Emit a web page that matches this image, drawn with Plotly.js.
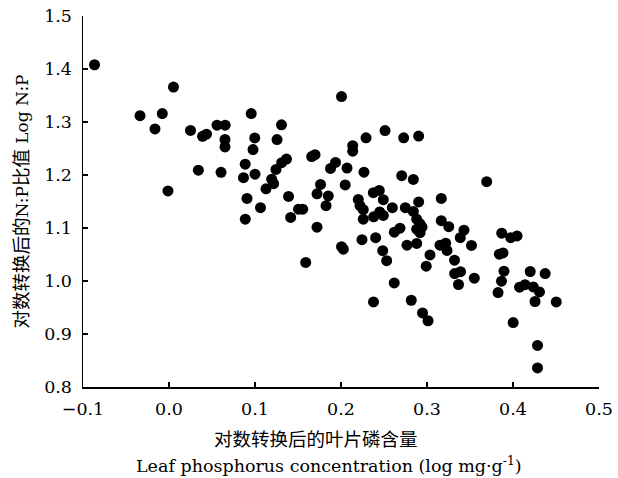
<!DOCTYPE html>
<html>
<head>
<meta charset="utf-8">
<script src="https://cdn.plot.ly/plotly-3.0.1.min.js"></script>
<style>html,body{margin:0;padding:0;background:#fff;}#chart{width:618px;height:478px;}</style>
</head>
<body>
<div id="chart"></div>
<script>
// Leaf phosphorus concentration (log mg·g-1)
const logP = [
 -0.0866,-0.0337,-0.0078,-0.0163,0.0052,-0.0012,0.0250,0.0390,0.0436,0.0341,
 0.0558,0.0653,0.0651,0.0651,0.0605,0.0956,0.0997,0.0977,0.0886,0.0866,
 0.1000,0.0907,0.0887,0.1064,0.1256,0.1308,0.1366,0.1310,0.1244,0.1194,
 0.1217,0.1128,0.1390,0.1415,0.1506,0.1555,0.1659,0.1698,0.1762,0.1721,
 0.1852,0.1826,0.1721,0.1590,0.2006,0.2512,0.2291,0.2729,0.2903,0.2136,
 0.2136,0.1936,0.1878,0.2070,0.2267,0.2706,0.2841,0.3694,0.2049,0.2201,
 0.2221,0.2259,0.2376,0.2445,0.2492,0.2597,0.2748,0.2841,0.2903,0.3166,
 0.2259,0.2380,0.2450,0.2492,0.2880,0.2919,0.2942,0.2880,0.2919,0.3166,
 0.3253,0.3430,0.3387,0.2686,0.2620,0.2244,0.2403,0.2006,0.2027,0.2485,
 0.2531,0.2767,0.2880,0.3151,0.3217,0.3233,0.3517,0.3869,0.3973,0.4047,
 0.3035,0.2991,0.3320,0.3322,0.3390,0.3366,0.3550,0.2619,0.2378,0.2817,
 0.2948,0.3012,0.3841,0.3884,0.3895,0.3866,0.3826,0.4076,0.4140,0.4200,
 0.4374,0.4236,0.4308,0.4256,0.4503,0.4002,0.4285,0.4285
];
// Log N:P ratio
const logNP = [
 1.408,1.312,1.316,1.287,1.366,1.170,1.284,1.273,1.277,1.209,
 1.294,1.294,1.267,1.253,1.205,1.316,1.270,1.248,1.2205,1.195,
 1.2016,1.1557,1.1167,1.1384,1.2668,1.2947,1.230,1.2233,1.2105,1.1922,
 1.1837,1.1739,1.1595,1.120,1.1355,1.1355,1.2347,1.2384,1.1822,1.1644,
 1.1605,1.1421,1.1016,1.0351,1.348,1.2838,1.2702,1.2702,1.2734,1.2554,
 1.245,1.2237,1.2124,1.213,1.2054,1.1988,1.1916,1.1875,1.1812,1.1539,
 1.1421,1.1346,1.1667,1.1708,1.1535,1.1384,1.1384,1.1312,1.1491,1.1557,
 1.1167,1.121,1.1303,1.1238,1.1167,1.1078,1.1016,1.0978,1.0912,1.1138,
 1.1025,1.0959,1.0817,1.0997,1.0921,1.0779,1.0817,1.0647,1.060,1.0572,
 1.0383,1.0676,1.0708,1.0676,1.0713,1.0576,1.0672,1.0902,1.0817,1.0851,
 1.0491,1.0279,1.0392,1.0141,1.0175,0.9934,1.0053,0.9964,0.9605,0.9637,
 0.9397,0.925,1.0506,1.053,1.0185,0.9996,0.9782,0.9883,0.993,1.0179,
 1.0141,0.9888,0.9794,0.9613,0.9605,0.9216,0.8784,0.8359
];
const xTickVals = [-0.1,0.0,0.1,0.2,0.3,0.4,0.5];
const xTickText = ["\u22120.1","0.0","0.1","0.2","0.3","0.4","0.5"];
const yTickVals = [0.8,0.9,1.0,1.1,1.2,1.3,1.4,1.5];
const yTickText = ["0.8","0.9","1.0","1.1","1.2","1.3","1.4","1.5"];
const yTitle = "<span style='font-size:18.5px'>对数转换后的</span>N:P<span style='font-size:18.5px'>比值</span> Log N:P";
const xTitleCn = "对数转换后的叶片磷含量";
const xTitleEn = "Leaf phosphorus concentration (log mg·g<sup>-1</sup>)";

const FONT = "'DejaVu Serif', 'Noto Sans CJK SC', serif";

const data = [{
  type: 'scatter', mode: 'markers',
  x: logP, y: logNP,
  marker: {color: '#000000', size: 11, line: {width: 0}},
  showlegend: false, hoverinfo: 'skip'
}];

const axisCommon = {
  showline: true, linecolor: '#000', linewidth: 1.5,
  ticks: 'inside', ticklen: 5, tickwidth: 1.5, tickcolor: '#000',
  showgrid: false, zeroline: false,
  tickfont: {family: FONT, size: 17.5, color: '#000'},
  tickmode: 'array'
};

const layout = {
  width: 618, height: 478,
  margin: {l: 83, r: 19, t: 16, b: 91},
  paper_bgcolor: '#fff', plot_bgcolor: '#fff',
  font: {family: FONT, color: '#000'},
  xaxis: Object.assign({}, axisCommon, {
    range: [-0.1, 0.5], tickvals: xTickVals, ticktext: xTickText,
    ticklabelstandoff: 5
  }),
  yaxis: Object.assign({}, axisCommon, {
    range: [0.8, 1.5], tickvals: yTickVals, ticktext: yTickText,
    ticklabelstandoff: 6,
    title: {text: yTitle, font: {family: FONT, size: 17, color: '#000'}, standoff: 11}
  }),
  annotations: [
    {text: xTitleCn, xref: 'paper', yref: 'paper', x: 0.4516, y: -0.138,
     xanchor: 'center', yanchor: 'middle', showarrow: false,
     font: {family: "'Noto Sans CJK SC', sans-serif", size: 18.5, color: '#000'}},
    {text: xTitleEn, xref: 'paper', yref: 'paper', x: 0.4758, y: -0.211,
     xanchor: 'center', yanchor: 'middle', showarrow: false,
     font: {family: FONT, size: 17.5, color: '#000'}}
  ]
};

Plotly.newPlot('chart', data, layout, {displayModeBar: false, staticPlot: true});
</script>
</body>
</html>
